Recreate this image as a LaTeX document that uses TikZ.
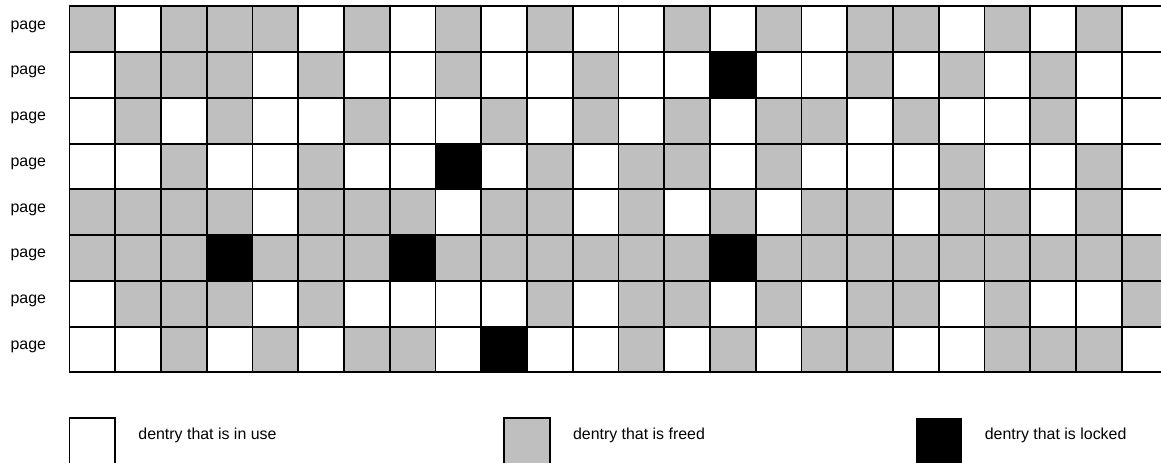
\documentclass[tikz,border=0pt]{standalone}
\usepackage{fontspec}
\setmainfont{Liberation Sans}
\colorlet{celdaG}{gray!50}
\colorlet{celdaW}{white}
\colorlet{celdaB}{black}
\tikzset{
  celda/.style={draw=black, line width=1.2pt},
  etiqueta/.style={font=\fontsize{9.9}{12}\selectfont, inner sep=0pt},
}
\begin{document}
\begin{tikzpicture}
    \useasboundingbox (-1.519,-1.982) rectangle (23.858,8.138);
    % Rejilla de 8 filas y 24 columnas (G = liberada, W = en uso, B = bloqueada)
    \foreach \fila [count=\r] in {%
        {G,W,G,G,G,W,G,W,G,W,G,W,W,G,W,G,W,G,G,W,G,W,G,W},%
        {W,G,G,G,W,G,W,W,G,W,W,G,W,W,B,W,W,G,W,G,W,G,W,W},%
        {W,G,W,G,W,W,G,W,W,G,W,G,W,G,W,G,G,W,G,W,W,G,W,W},%
        {W,W,G,W,W,G,W,W,B,W,G,W,G,G,W,G,W,W,W,G,W,W,G,W},%
        {G,G,G,G,W,G,G,G,W,G,G,W,G,W,G,W,G,G,W,G,G,W,G,W},%
        {G,G,G,B,G,G,G,B,G,G,G,G,G,G,B,G,G,G,G,G,G,G,G,G},%
        {W,G,G,G,W,G,W,W,W,W,G,W,G,G,W,G,W,G,G,W,G,W,W,G},%
        {W,W,G,W,G,W,G,G,W,B,W,W,G,W,G,W,G,G,W,W,G,G,G,W}%
    }{
        \foreach \c [count=\k] in \fila
            \filldraw[celda, fill=celda\c] (\k-1,8-\r) rectangle (\k,9-\r);
        % Etiqueta de cada fila
        \node[etiqueta, anchor=base] (page\r) at (-0.9,8.5-\r) {page};
    }
    % Leyenda
    \filldraw[celda, fill=white] (0,-2) rectangle (1,-1);
    \node[etiqueta, anchor=base west] (enuso) at (1.5,-1.471) {dentry that is in use};
    \filldraw[celda, fill=gray!50] (9.5,-2) rectangle (10.5,-1);
    \node[etiqueta, anchor=base west] (libre) at (11,-1.471) {dentry that is freed};
    \fill[black] (18.5,-2) rectangle (19.5,-1);
    \node[etiqueta, anchor=base west] (bloqueada) at (20,-1.471) {dentry that is locked};
\end{tikzpicture}
\end{document}
